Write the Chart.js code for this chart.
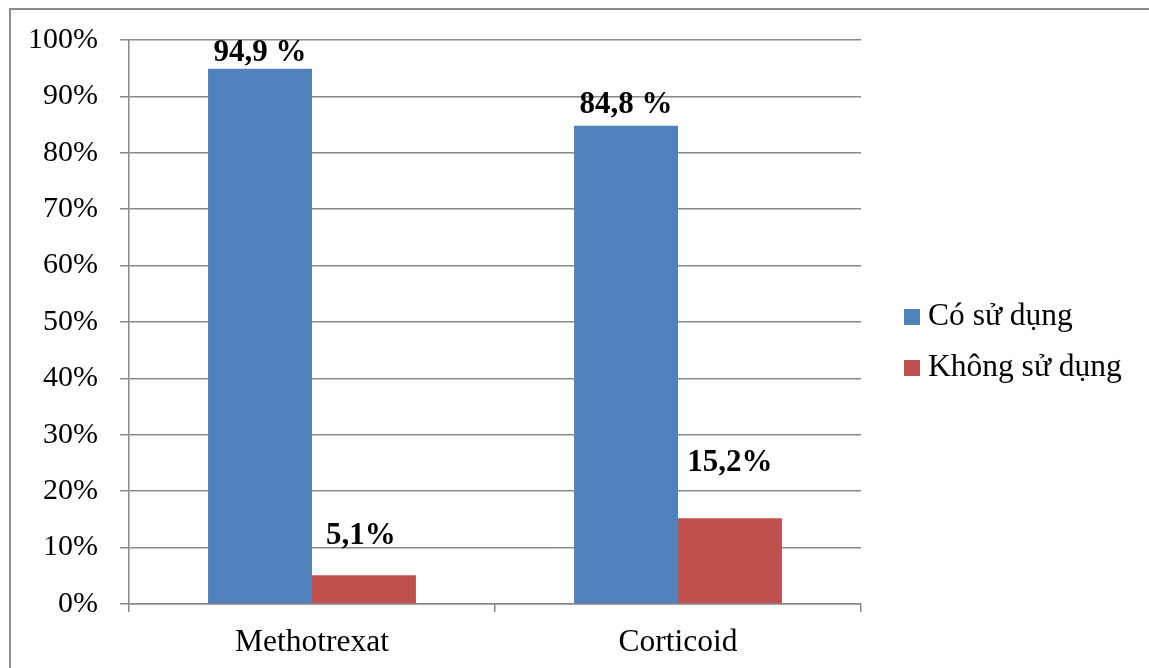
<!DOCTYPE html>
<html>
<head>
<meta charset="utf-8">
<script src="https://cdn.jsdelivr.net/npm/chart.js@4"></script>
<style>
  html, body { margin: 0; padding: 0; background: #fff; }
  canvas { display: block; }
</style>
</head>
<body>
<canvas id="c" width="1149" height="668"></canvas>
<script>
// Drug usage shares per treatment
const categories = ['Methotrexat', 'Corticoid'];
const seriesNames = ['Có sử dụng', 'Không sử dụng'];
const coSuDung = [94.9, 84.8];
const khongSuDung = [5.1, 15.2];
const yTicks = [0, 10, 20, 30, 40, 50, 60, 70, 80, 90, 100];
const labelSuffix = [' %', '%'];

const seriesColors = ['#4F81BD', '#C0504D'];
const FONT = '"Liberation Serif", "Times New Roman", serif';
const GRID = '#888888';

// White background and the outer frame of the chart
const framePlugin = {
  id: 'frame',
  beforeDraw(chart) {
    const ctx = chart.ctx;
    ctx.save();
    ctx.fillStyle = '#ffffff';
    ctx.fillRect(0, 0, chart.width, chart.height);
    ctx.strokeStyle = '#8c8c8c';
    ctx.lineWidth = 2;
    ctx.strokeRect(10, 9, chart.width + 20, chart.height + 20);
    ctx.restore();
  }
};

// Bold value labels above each bar
const valueLabels = {
  id: 'valueLabels',
  afterDatasetsDraw(chart, args, opts) {
    const ctx = chart.ctx;
    ctx.save();
    ctx.font = 'bold 31px ' + FONT;
    ctx.fillStyle = '#000';
    ctx.textAlign = 'center';
    ctx.textBaseline = 'middle';
    chart.data.datasets.forEach((ds, di) => {
      chart.getDatasetMeta(di).data.forEach((bar, i) => {
        const txt = ds.data[i].toFixed(1).replace('.', ',') + labelSuffix[di];
        ctx.fillText(txt, bar.x + opts.shift[di][i], bar.y - opts.lift[di][i]);
      });
    });
    ctx.restore();
  }
};

// Legend on the right: coloured square followed by series name
const sideLegend = {
  id: 'sideLegend',
  afterDraw(chart, args, opts) {
    const ctx = chart.ctx;
    ctx.save();
    ctx.font = '31.5px ' + FONT;
    ctx.textBaseline = 'middle';
    ctx.textAlign = 'left';
    chart.data.datasets.forEach((ds, i) => {
      const cy = opts.top + i * opts.step;
      ctx.fillStyle = ds.backgroundColor;
      ctx.fillRect(opts.x, cy - 8, 16, 16);
      ctx.fillStyle = '#000';
      ctx.fillText(ds.label, opts.x + 24, cy);
    });
    ctx.restore();
  }
};

new Chart(document.getElementById('c'), {
  type: 'bar',
  data: {
    labels: categories,
    datasets: [
      { label: seriesNames[0], data: coSuDung, backgroundColor: seriesColors[0] },
      { label: seriesNames[1], data: khongSuDung, backgroundColor: seriesColors[1] }
    ]
  },
  options: {
    responsive: false,
    animation: false,
    devicePixelRatio: 1,
    layout: { padding: { top: 40, right: 288, left: 0, bottom: 0 } },
    datasets: {
      bar: { categoryPercentage: 0.568, barPercentage: 1.0, borderWidth: 0 }
    },
    plugins: {
      legend: { display: false },
      tooltip: { enabled: false },
      valueLabels: { lift: [[16, 21], [39, 55]], shift: [[0, 0], [-3, 0]] },
      sideLegend: { x: 904, top: 317, step: 51 }
    },
    scales: {
      x: {
        offset: true,
        grid: {
          offset: true,
          drawOnChartArea: false,
          drawTicks: true,
          tickLength: 8,
          color: GRID,
          lineWidth: 1.5
        },
        border: { display: true, color: GRID, width: 1.5 },
        ticks: { font: { family: FONT, size: 31.5 }, color: '#000', padding: 12 },
        afterFit(scale) { scale.height = 64; }
      },
      y: {
        min: 0,
        max: 100,
        afterBuildTicks(scale) { scale.ticks = yTicks.map(v => ({ value: v })); },
        grid: { color: GRID, lineWidth: 1.5, tickLength: 9, drawTicks: true },
        border: { display: true, color: GRID, width: 1.5 },
        ticks: {
          font: { family: FONT, size: 30 },
          color: '#000',
          padding: 22,
          callback: v => v + '%'
        },
        afterFit(scale) { scale.width = 129; }
      }
    }
  },
  plugins: [framePlugin, valueLabels, sideLegend]
});
</script>
</body>
</html>
